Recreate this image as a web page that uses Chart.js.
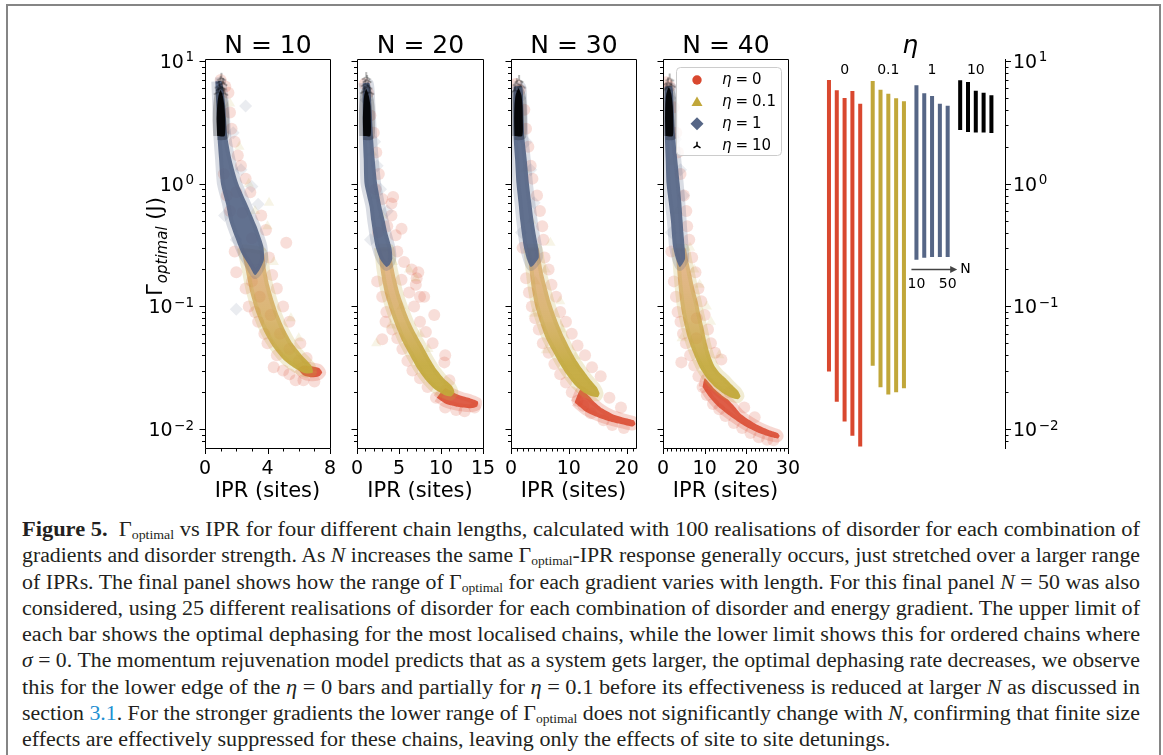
<!DOCTYPE html>
<html>
<head>
<meta charset="utf-8">
<title>Gamma optimal vs IPR</title>
<script src="https://cdn.jsdelivr.net/npm/chart.js@4.4.1/dist/chart.umd.min.js"></script>
<style>
  html, body { margin: 0; padding: 0; background: #fff; }
  body { position: relative; width: 1163px; height: 755px; overflow: hidden; }
  canvas { position: absolute; }
  #frame { position: absolute; left: 6px; top: 4px; width: 1151px; height: 800px;
           border: 2px solid #858585; border-bottom: none; }
  #caption { position: absolute; left: 22px; top: 516px; width: 1118px;
             font-family: 'Liberation Serif', serif; font-size: 20px; line-height: 26.25px; color: #231f20; }
  #caption .ln { white-space: nowrap; width: max-content; transform-origin: 0 0; }
  #caption sub { font-size: 0.62em; line-height: 0; vertical-align: -0.28em; }
  #caption .ref { color: #1e8fd2; }
</style>
</head>
<body>
<div id="frame"></div>
<div id="caption">
  <div class="ln"><b>Figure 5.</b>&nbsp; Γ<sub>optimal</sub> vs IPR for four different chain lengths, calculated with 100 realisations of disorder for each combination of</div>
  <div class="ln">gradients and disorder strength. As <i>N</i> increases the same Γ<sub>optimal</sub>-IPR response generally occurs, just stretched over a larger range</div>
  <div class="ln">of IPRs. The final panel shows how the range of Γ<sub>optimal</sub> for each gradient varies with length. For this final panel <i>N</i> = 50 was also</div>
  <div class="ln">considered, using 25 different realisations of disorder for each combination of disorder and energy gradient. The upper limit of</div>
  <div class="ln">each bar shows the optimal dephasing for the most localised chains, while the lower limit shows this for ordered chains where</div>
  <div class="ln"><i>σ</i> = 0. The momentum rejuvenation model predicts that as a system gets larger, the optimal dephasing rate decreases, we observe</div>
  <div class="ln">this for the lower edge of the <i>η</i> = 0 bars and partially for <i>η</i> = 0.1 before its effectiveness is reduced at larger <i>N</i> as discussed in</div>
  <div class="ln">section <span class="ref">3.1</span>. For the stronger gradients the lower range of Γ<sub>optimal</sub> does not significantly change with <i>N</i>, confirming that finite size</div>
  <div class="ln last">effects are effectively suppressed for these chains, leaving only the effects of site to site detunings.</div>
</div>
<script>
// chain lengths of the four scatter panels and the gradients
const chainLengths = [10, 20, 30, 40];
const etaValues = ['0', '0.1', '1', '10'];

// [IPR, Γ] : "core" = outline of the dense part of each cloud, "halo" = stray points around it
// N = 10
const coreN10Eta10 = [[0.78,2.45],[0.74,3.3],[0.78,4.3],[0.86,5.2],[1.0,5.8],[1.14,5.2],[1.24,4.3],[1.3,3.3],[1.26,2.45]];
const haloN10Eta10 = [[0.9,6.3],[1.0,6.9],[1.1,6.1],[0.85,5.6],[1.2,5.5],[1.05,7.3],[0.95,6.0],[1.15,6.6]];
const coreN10Eta1 = [[0.66,6.8],[0.72,4.5],[0.8,2.4],[0.9,1.6],[1.02,1.0],[1.34,0.69],[1.56,0.5],[1.92,0.37],[2.35,0.27],[2.88,0.21],[3.2,0.18],[3.5,0.2],[3.77,0.24],[3.73,0.31],[3.3,0.45],[2.77,0.65],[2.13,1.0],[1.7,1.56],[1.43,2.4],[1.28,4.5],[1.07,6.8]];
const haloN10Eta1 = [[2.6,4.3],[3.4,0.68],[2.0,0.35],[2.0,0.095],[1.8,2.6],[2.3,1.3],[1.25,0.55],[3.0,0.95]];
const coreN10Eta01 = [[2.3,0.3],[2.6,0.2],[2.9,0.13],[3.3,0.088],[3.8,0.062],[4.4,0.046],[5.1,0.036],[5.8,0.031],[6.4,0.0285],[6.9,0.029],[6.8,0.033],[6.2,0.04],[5.6,0.05],[5.1,0.065],[4.7,0.085],[4.4,0.11],[4.1,0.15],[3.9,0.2],[3.7,0.28]];
const haloN10Eta01 = [[4.1,0.7],[4.0,0.45],[4.4,0.23],[6.0,0.055],[3.2,0.6],[2.8,1.0],[3.6,0.3],[5.5,0.08],[2.2,2.0],[1.6,4.5]];
const coreN10Eta0 = [[5.9,0.031],[6.3,0.0275],[6.8,0.0265],[7.3,0.027],[7.5,0.029],[7.3,0.0315],[6.8,0.0325],[6.3,0.033]];
const haloN10Eta0 = [[1.0,7.0],[1.3,6.2],[1.5,5.5],[1.6,3.8],[1.7,2.8],[1.9,2.2],[2.1,1.7],[2.3,1.4],[2.6,1.1],[2.9,0.85],[1.2,1.2],[1.4,0.8],[1.6,0.6],[3.6,0.55],[3.9,0.42],[5.2,0.33],[2.0,0.19],[1.9,0.28],[4.1,0.25],[4.3,0.18],[2.6,0.14],[4.6,0.14],[2.8,0.1],[3.2,0.09],[5.0,0.1],[3.4,0.075],[5.4,0.075],[3.8,0.06],[4.0,0.05],[6.1,0.05],[4.6,0.04],[6.5,0.038],[5.0,0.03],[5.4,0.028],[5.8,0.025],[6.3,0.025],[7.0,0.0245],[4.4,0.032],[3.0,0.16],[3.5,0.12],[4.2,0.085],[4.8,0.06],[5.4,0.045],[6.0,0.036],[3.0,0.36],[2.4,0.58],[2.0,0.85]];

// N = 20
const coreN20Eta10 = [[0.75,2.45],[0.7,3.3],[0.75,4.3],[0.85,5.2],[1.1,5.9],[1.4,5.2],[1.6,4.3],[1.65,3.3],[1.6,2.45]];
const haloN20Eta10 = [[1.0,6.5],[1.2,7.0],[1.3,6.2],[0.9,5.7],[1.5,5.6],[1.1,7.4]];
const coreN20Eta1 = [[0.68,6.6],[0.68,4.5],[0.7,2.4],[0.8,1.6],[0.9,1.0],[1.5,0.65],[1.7,0.5],[2.2,0.31],[2.8,0.24],[3.5,0.21],[3.9,0.22],[4.2,0.245],[4.1,0.3],[3.6,0.4],[3.3,0.5],[2.9,0.65],[2.4,1.0],[2.1,1.6],[1.9,2.4],[1.7,4.5],[1.5,6.6]];
const haloN20Eta1 = [[1.1,4.8],[2.1,2.2],[2.4,1.4],[2.8,0.9],[3.6,0.6],[1.6,0.35]];
const coreN20Eta01 = [[2.5,0.3],[2.8,0.2],[3.3,0.13],[3.9,0.095],[4.6,0.07],[5.4,0.052],[6.3,0.04],[7.2,0.031],[8.2,0.025],[9.3,0.021],[10.4,0.019],[11.2,0.0185],[11.6,0.02],[11.3,0.0225],[10.3,0.026],[9.4,0.031],[8.6,0.038],[7.8,0.048],[7.0,0.06],[6.3,0.075],[5.7,0.095],[5.1,0.125],[4.6,0.17],[4.2,0.23],[3.9,0.3]];
const haloN20Eta01 = [[4.3,0.23],[6.2,0.2],[7.0,0.17],[2.2,0.8],[3.0,0.55],[5.3,0.1],[7.5,0.06],[2.3,0.05],[4.0,0.07],[8.5,0.045],[1.3,3.0],[1.8,1.8]];
const coreN20Eta0 = [[9.5,0.018],[10.5,0.0162],[12.0,0.0152],[13.5,0.0148],[14.3,0.0153],[14.4,0.0168],[13.5,0.0178],[12.5,0.0186],[11.5,0.0198],[10.5,0.0215]];
const haloN20Eta0 = [[0.9,6.5],[1.3,5.5],[1.6,3.6],[2.0,2.6],[2.3,1.8],[2.6,1.2],[2.2,0.9],[3.0,0.75],[4.1,0.69],[4.3,0.78],[4.1,0.55],[5.3,0.43],[3.6,0.45],[4.6,0.38],[2.5,0.4],[4.8,0.28],[5.6,0.23],[6.5,0.2],[7.1,0.17],[7.3,0.19],[7.0,0.15],[2.4,0.16],[3.0,0.12],[6.2,0.13],[7.5,0.12],[3.4,0.075],[3.5,0.09],[6.8,0.1],[4.2,0.065],[7.5,0.075],[3.0,0.054],[4.8,0.055],[8.2,0.062],[5.4,0.045],[9.0,0.05],[6.0,0.036],[10.5,0.04],[10.4,0.035],[6.6,0.03],[7.5,0.026],[8.4,0.022],[9.4,0.018],[10.5,0.015],[11.8,0.0143],[12.8,0.014],[14.0,0.015],[5.3,0.165],[8.0,0.12],[9.2,0.085],[11.0,0.025]];

// N = 30
const coreN30Eta10 = [[0.6,2.45],[0.55,3.3],[0.6,4.3],[0.8,5.3],[1.3,6.0],[1.8,5.3],[2.0,4.3],[2.05,3.3],[1.95,2.45]];
const haloN30Eta10 = [[1.0,6.6],[1.4,7.0],[1.8,6.3],[0.7,5.8]];
const coreN30Eta1 = [[0.45,6.2],[0.4,4.5],[0.45,2.4],[0.7,1.6],[0.95,1.0],[1.3,0.7],[1.6,0.5],[2.2,0.31],[2.8,0.24],[3.4,0.21],[4.0,0.22],[4.8,0.25],[4.7,0.3],[4.3,0.38],[3.9,0.5],[3.5,0.7],[3.1,1.0],[2.7,1.6],[2.3,2.4],[2.1,4.5],[1.9,6.2]];
const haloN30Eta1 = [[1.5,5.0],[2.6,2.2],[3.4,1.3],[4.0,0.7],[1.8,0.4]];
const coreN30Eta01 = [[2.8,0.3],[3.2,0.2],[3.6,0.14],[4.2,0.1],[5.0,0.075],[5.9,0.057],[7.0,0.045],[8.3,0.035],[9.6,0.028],[11.0,0.023],[12.5,0.02],[14.0,0.0185],[15.0,0.0182],[15.3,0.0195],[14.8,0.022],[13.5,0.026],[12.3,0.031],[11.2,0.037],[10.2,0.045],[9.2,0.056],[8.3,0.07],[7.5,0.088],[6.8,0.11],[6.2,0.14],[5.6,0.18],[5.1,0.24],[4.7,0.3]];
const haloN30Eta01 = [[6.8,0.33],[6.0,0.2],[8.5,0.11],[8.9,0.065],[11.2,0.039],[3.9,0.087],[6.0,0.044],[3.5,0.5],[2.4,1.3],[4.2,0.16]];
const coreN30Eta0 = [[11.0,0.0165],[13.0,0.0138],[15.0,0.0125],[17.0,0.0116],[19.0,0.011],[21.0,0.0105],[21.5,0.011],[21.2,0.0118],[19.5,0.0124],[17.5,0.0133],[15.8,0.0147],[14.5,0.0165],[13.3,0.019],[12.0,0.021]];
const haloN30Eta0 = [[0.8,6.5],[1.5,5.8],[2.3,4.0],[2.6,2.8],[3.0,2.0],[3.4,1.4],[3.7,1.1],[4.5,0.8],[5.0,0.6],[5.4,0.45],[5.6,0.35],[2.0,0.3],[5.8,0.25],[6.5,0.2],[2.6,0.17],[7.0,0.15],[3.1,0.13],[7.8,0.12],[3.6,0.1],[8.5,0.09],[4.2,0.08],[9.5,0.075],[4.8,0.065],[10.5,0.06],[5.5,0.05],[11.5,0.048],[6.5,0.042],[12.8,0.04],[7.5,0.034],[14.0,0.032],[8.5,0.028],[15.5,0.027],[9.5,0.024],[10.5,0.02],[11.5,0.017],[12.5,0.0155],[13.8,0.0135],[16.0,0.0118],[17.5,0.0108],[19.5,0.0102],[17.0,0.018],[19.0,0.015]];

// N = 40
const coreN40Eta10 = [[0.6,2.45],[0.5,3.3],[0.55,4.3],[0.8,5.4],[1.4,6.1],[2.0,5.4],[2.35,4.3],[2.45,3.3],[2.35,2.45]];
const haloN40Eta10 = [[1.2,6.7],[1.6,7.2],[2.0,6.4],[0.9,6.0]];
const coreN40Eta1 = [[0.45,6.2],[0.4,4.5],[0.45,2.4],[0.65,1.6],[0.85,1.0],[1.4,0.7],[1.9,0.5],[2.4,0.31],[3.2,0.24],[4.0,0.21],[4.6,0.22],[5.3,0.245],[5.2,0.3],[4.9,0.4],[4.7,0.5],[4.4,0.7],[4.0,1.0],[3.4,1.6],[2.9,2.4],[2.5,4.5],[2.2,6.2]];
const haloN40Eta1 = [[1.6,5.0],[3.0,2.3],[4.2,1.3],[4.9,0.8],[2.0,0.4]];
const coreN40Eta01 = [[3.0,0.3],[3.4,0.2],[3.8,0.14],[4.3,0.1],[5.0,0.075],[5.8,0.058],[6.8,0.046],[7.8,0.038],[9.0,0.031],[10.5,0.026],[12.5,0.022],[14.5,0.0195],[16.5,0.018],[18.0,0.0175],[18.6,0.0185],[18.0,0.0205],[16.5,0.023],[15.0,0.026],[13.5,0.029],[12.3,0.033],[11.3,0.04],[10.5,0.05],[9.8,0.065],[9.0,0.085],[8.3,0.11],[7.5,0.14],[6.8,0.18],[6.0,0.24],[5.3,0.3]];
const haloN40Eta01 = [[6.5,0.3],[7.5,0.2],[8.8,0.15],[10.5,0.1],[11.5,0.075],[4.5,0.055],[13.5,0.04],[3.5,0.6],[2.2,1.5]];
const coreN40Eta0 = [[9.5,0.022],[11.0,0.0185],[13.0,0.0155],[15.5,0.0132],[18.0,0.0115],[20.5,0.0102],[23.0,0.0093],[25.5,0.0087],[27.5,0.0084],[28.0,0.0088],[27.5,0.0093],[25.5,0.0098],[23.0,0.0107],[20.5,0.012],[18.5,0.0135],[17.0,0.0155],[15.5,0.0175],[14.0,0.019],[12.5,0.021],[11.0,0.024],[10.0,0.026]];
const haloN40Eta0 = [[0.8,6.7],[1.6,6.2],[2.6,4.2],[3.2,2.6],[3.6,1.8],[4.2,1.2],[5.0,0.8],[5.6,0.6],[5.8,0.45],[6.3,0.35],[2.0,0.28],[7.0,0.25],[2.6,0.16],[7.8,0.19],[3.1,0.12],[8.5,0.14],[3.5,0.09],[9.2,0.11],[4.2,0.075],[8.1,0.08],[10.0,0.085],[4.8,0.06],[10.8,0.065],[5.5,0.05],[11.5,0.05],[6.5,0.04],[7.5,0.033],[12.5,0.042],[8.5,0.027],[9.5,0.022],[10.5,0.019],[12.0,0.016],[13.5,0.0145],[15.0,0.0128],[17.0,0.0112],[19.0,0.0102],[21.0,0.0093],[23.0,0.0086],[25.0,0.0082],[26.5,0.0081],[14.0,0.037],[16.0,0.02],[22.0,0.0125],[19.5,0.015],[8.0,0.055],[4.4,0.035]];

// Γ_optimal range [lowest, highest] for N = 10..50
const barLengths = [10, 20, 30, 40, 50];
const rangeEta0 = [[0.029,7.13],[0.0164,5.88],[0.01135,5.09],[0.00867,5.81],[0.0071,4.57]];
const rangeEta01 = [[0.0323,7.0],[0.0215,5.95],[0.0188,5.52],[0.0196,5.06],[0.0211,4.79]];
const rangeEta1 = [[0.236,6.45],[0.245,5.56],[0.248,5.28],[0.248,4.57],[0.248,4.4]];
const rangeEta10 = [[2.69,7.1],[2.59,6.87],[2.56,5.84],[2.56,5.62],[2.54,5.35]];

// ---- layout / style ----
const Y_MIN = 0.00702, Y_MAX = 10.38;
const plotLeft = [205, 357, 511, 663];
const plotRight = [330, 483, 636, 788];
const xMax = [8, 15, 21.6, 30];
const xMajor = [4, 5, 10, 10];
const GROUP_STEP = 5.6;

const RED = '217,72,47', YEL = '193,167,58', BLU = '86,102,134', BLK = '0,0,0';
const rgba = (c, a) => `rgba(${c},${a})`;
const FONT = '"DejaVu Sans", sans-serif';

const cores = [
  [coreN10Eta0, coreN10Eta01, coreN10Eta1, coreN10Eta10],
  [coreN20Eta0, coreN20Eta01, coreN20Eta1, coreN20Eta10],
  [coreN30Eta0, coreN30Eta01, coreN30Eta1, coreN30Eta10],
  [coreN40Eta0, coreN40Eta01, coreN40Eta1, coreN40Eta10]
];
const halos = [
  [haloN10Eta0, haloN10Eta01, haloN10Eta1, haloN10Eta10],
  [haloN20Eta0, haloN20Eta01, haloN20Eta1, haloN20Eta10],
  [haloN30Eta0, haloN30Eta01, haloN30Eta1, haloN30Eta10],
  [haloN40Eta0, haloN40Eta01, haloN40Eta1, haloN40Eta10]
];
const ranges = [rangeEta0, rangeEta01, rangeEta1, rangeEta10];

// tri_up marker used for eta = 10
const triMarker = (() => {
  const c = document.createElement('canvas');
  c.width = 12; c.height = 12;
  const g = c.getContext('2d');
  g.strokeStyle = 'rgba(0,0,0,0.35)';
  g.lineWidth = 1.6;
  g.beginPath();
  g.moveTo(6, 6); g.lineTo(6, 1);
  g.moveTo(6, 6); g.lineTo(1.7, 8.5);
  g.moveTo(6, 6); g.lineTo(10.3, 8.5);
  g.stroke();
  return c;
})();

// the eta = 0.1 band turns from orange (mixed with eta = 0 points) to solid yellow at its tail
function yellowFill(context) {
  const {chart} = context;
  const y = chart.scales.y;
  if (!chart.chartArea || !y) return rgba(YEL, 0.75);
  const g = chart.ctx.createLinearGradient(0, y.getPixelForValue(0.3), 0, y.getPixelForValue(0.02));
  g.addColorStop(0, 'rgba(214,138,78,0.6)');
  g.addColorStop(0.5, 'rgba(204,158,66,0.75)');
  g.addColorStop(0.8, 'rgba(195,168,58,0.92)');
  g.addColorStop(1, 'rgba(195,168,58,0.95)');
  return g;
}

const etaStyle = [
  {color: RED, fill: rgba(RED, 0.88), pointStyle: 'circle', radius: 6, haloAlpha: 0.18},
  {color: YEL, fill: yellowFill, pointStyle: 'triangle', radius: 6, haloAlpha: 0.13},
  {color: BLU, fill: rgba(BLU, 0.93), pointStyle: 'rectRot', radius: 6.5, haloAlpha: 0.12},
  {color: BLK, fill: rgba(BLK, 0.9), pointStyle: triMarker, radius: 6, haloAlpha: 1}
];

const toXY = arr => arr.map(p => ({x: p[0], y: p[1]}));

function panelDatasets(k) {
  const sets = [];
  etaStyle.forEach((s, e) => {
    const ring = toXY(cores[k][e]);
    ring.push(ring[0]);
    // eta = 10 on top, eta = 0 at the bottom
    const base = (3 - e) * 2;
    sets.push({
      data: ring, showLine: true, fill: 'shape', tension: 0.2,
      backgroundColor: s.fill,
      borderColor: rgba(s.color, 0.22), borderWidth: 8, borderJoinStyle: 'round',
      pointRadius: 0, order: base
    });
    sets.push({
      data: toXY(halos[k][e]), showLine: false,
      pointStyle: s.pointStyle, pointRadius: s.radius, pointBorderWidth: 0,
      backgroundColor: rgba(s.color, s.haloAlpha),
      pointBackgroundColor: rgba(s.color, s.haloAlpha),
      order: base + 1
    });
  });
  return sets;
}

function linearTicks(max, major) {
  const t = [];
  for (let v = 0; v <= max + 1e-9; v += 1) t.push({value: v, major: v % major === 0});
  return t;
}
function logTicks() {
  const t = [];
  for (let e = -3; e <= 1; e++) {
    for (let m = 1; m <= 9; m++) {
      const v = m * Math.pow(10, e);
      if (v >= Y_MIN && v <= Y_MAX) t.push({value: v, major: m === 1});
    }
  }
  return t;
}

// "10" with a raised exponent
function drawPow(ctx, xe, yc, e, align) {
  const sup = (e < 0 ? '\u2212' : '') + Math.abs(e);
  ctx.font = '19px ' + FONT;
  const wb = ctx.measureText('10').width;
  ctx.font = '13.5px ' + FONT;
  const ws = ctx.measureText(sup).width;
  const x0 = align === 'right' ? xe - wb - ws - 1.5 : xe;
  ctx.textAlign = 'left';
  ctx.textBaseline = 'alphabetic';
  ctx.font = '19px ' + FONT;
  ctx.fillText('10', x0, yc + 7);
  ctx.font = '13.5px ' + FONT;
  ctx.fillText(sup, x0 + wb + 1.5, yc + 0.5);
}

function legendMarker(ctx, e, x, y) {
  ctx.fillStyle = rgba(etaStyle[e].color, 1);
  ctx.beginPath();
  if (e === 0) {
    ctx.arc(x, y, 4.7, 0, Math.PI * 2);
    ctx.fill();
  } else if (e === 1) {
    ctx.moveTo(x, y - 5.5); ctx.lineTo(x + 5.5, y + 4); ctx.lineTo(x - 5.5, y + 4);
    ctx.closePath(); ctx.fill();
  } else if (e === 2) {
    ctx.moveTo(x, y - 6.5); ctx.lineTo(x + 6.5, y); ctx.lineTo(x, y + 6.5); ctx.lineTo(x - 6.5, y);
    ctx.closePath(); ctx.fill();
  } else {
    ctx.strokeStyle = '#000'; ctx.lineWidth = 1.5;
    ctx.moveTo(x, y); ctx.lineTo(x, y - 4);
    ctx.moveTo(x, y); ctx.lineTo(x - 3.5, y + 2.2);
    ctx.moveTo(x, y); ctx.lineTo(x + 3.5, y + 2.2);
    ctx.stroke();
  }
}

// spines, matplotlib-like ticks, titles and the legend
const panelArt = {
  id: 'panelArt',
  afterDraw(chart, args, o) {
    const {ctx, chartArea: a, scales: {x, y}} = chart;
    ctx.save();
    ctx.strokeStyle = '#000';
    ctx.lineWidth = 1;
    ctx.beginPath();
    ctx.rect(a.left + 0.5, a.top + 0.5, a.right - a.left, a.bottom - a.top);
    x.ticks.forEach(t => {
      const px = Math.round(x.getPixelForValue(t.value)) + 0.5;
      ctx.moveTo(px, a.bottom + 0.5);
      ctx.lineTo(px, a.bottom + (t.major ? 6 : 3.5));
    });
    y.ticks.forEach(t => {
      const py = Math.round(y.getPixelForValue(t.value)) + 0.5;
      ctx.moveTo(a.left + 0.5, py);
      ctx.lineTo(a.left - (t.major ? 5.5 : 3), py);
    });
    ctx.stroke();

    ctx.fillStyle = '#000';
    ctx.font = '25px ' + FONT;
    ctx.textAlign = 'center';
    ctx.textBaseline = 'alphabetic';
    ctx.fillText(o.title, (a.left + a.right) / 2 + 0.5, a.top - 6);

    if (o.yLabels) {
      y.ticks.filter(t => t.major).forEach(t =>
        drawPow(ctx, a.left - 11, y.getPixelForValue(t.value), Math.round(Math.log10(t.value)), 'right'));
      // Γ_optimal (J), rotated
      ctx.save();
      ctx.translate(a.left - 43, (a.top + a.bottom) / 2 - 7);
      ctx.rotate(-Math.PI / 2);
      ctx.font = '21px ' + FONT;
      const wG = ctx.measureText('Γ').width;
      const wJ = ctx.measureText(' (J)').width;
      ctx.font = 'italic 15px ' + FONT;
      const wS = ctx.measureText('optimal').width;
      let tx = -(wG + wS + wJ + 1) / 2;
      ctx.textAlign = 'left';
      ctx.font = '21px ' + FONT;
      ctx.fillText('Γ', tx, 0);
      tx += wG + 1;
      ctx.font = 'italic 15px ' + FONT;
      ctx.fillText('optimal', tx, 5);
      tx += wS;
      ctx.font = '21px ' + FONT;
      ctx.fillText(' (J)', tx, 0);
      ctx.restore();
    }

    if (o.legend) {
      const bx = a.left + 13.5, by = a.top + 8.5;
      ctx.beginPath();
      ctx.roundRect(bx, by, 105, 88, 4);
      ctx.fillStyle = 'rgba(255,255,255,0.8)';
      ctx.fill();
      ctx.strokeStyle = '#cccccc';
      ctx.stroke();
      etaValues.forEach((v, e) => {
        const ry = a.top + 21 + e * 21.9;
        legendMarker(ctx, e, a.left + 34, ry);
        ctx.fillStyle = '#000';
        ctx.textAlign = 'left';
        ctx.textBaseline = 'middle';
        let tx = a.left + 59;
        ctx.font = 'italic 15px ' + FONT;
        ctx.fillText('η', tx, ry);
        tx += ctx.measureText('η').width + 4;
        ctx.font = '15px ' + FONT;
        ctx.fillText('=', tx, ry);
        tx += ctx.measureText('=').width + 4;
        ctx.fillText(v, tx, ry);
      });
    }
    ctx.restore();
  }
};

function panelChart(k) {
  const yW = k === 0 ? 75 : 12, padR = 18;
  const cv = document.createElement('canvas');
  cv.width = plotRight[k] - plotLeft[k] + yW + padR;
  cv.height = 490;
  cv.style.left = (plotLeft[k] - yW) + 'px';
  cv.style.top = '20px';
  document.body.appendChild(cv);
  return new Chart(cv, {
    type: 'scatter',
    data: {datasets: panelDatasets(k)},
    options: {
      responsive: false, animation: false, devicePixelRatio: 1, events: [],
      layout: {padding: {top: 39, right: padR, bottom: 0, left: 0}},
      plugins: {
        legend: {display: false},
        tooltip: {enabled: false},
        panelArt: {title: 'N = ' + chainLengths[k], yLabels: k === 0, legend: k === 3}
      },
      scales: {
        x: {
          type: 'linear', min: 0, max: xMax[k], bounds: 'data',
          grid: {display: false, drawTicks: false}, border: {display: false},
          ticks: {
            autoSkip: false, maxRotation: 0, padding: 10, color: '#000',
            font: {family: 'DejaVu Sans', size: 19},
            callback: (v, i, t) => (t[i].major ? String(v) : '')
          },
          afterBuildTicks: s => { s.ticks = linearTicks(xMax[k], xMajor[k]); },
          afterFit: s => { s.height = 62; s.paddingLeft = 0; s.paddingRight = 0; },
          title: {
            display: true, text: 'IPR (sites)', color: '#000',
            font: {family: 'DejaVu Sans', size: 21}, padding: {top: 0, bottom: 6}
          }
        },
        y: {
          type: 'logarithmic', min: Y_MIN, max: Y_MAX, bounds: 'data',
          grid: {display: false, drawTicks: false}, border: {display: false},
          ticks: {display: false},
          afterBuildTicks: s => { s.ticks = logTicks(); },
          afterFit: s => { s.width = yW; s.paddingTop = 0; s.paddingBottom = 0; }
        }
      }
    },
    plugins: [panelArt]
  });
}

// right-hand panel: axis on the right, eta labels, N arrow
const barArt = {
  id: 'barArt',
  afterDraw(chart) {
    const {ctx, chartArea: a, scales: {x, y}} = chart;
    ctx.save();
    ctx.strokeStyle = '#000';
    ctx.lineWidth = 1;
    ctx.beginPath();
    ctx.moveTo(a.right + 0.5, a.top);
    ctx.lineTo(a.right + 0.5, a.bottom + 1);
    y.ticks.forEach(t => {
      const py = Math.round(y.getPixelForValue(t.value)) + 0.5;
      ctx.moveTo(a.right, py);
      ctx.lineTo(a.right + (t.major ? 6 : 3.5), py);
    });
    ctx.stroke();
    ctx.fillStyle = '#000';
    y.ticks.filter(t => t.major).forEach(t =>
      drawPow(ctx, a.right + 8, y.getPixelForValue(t.value), Math.round(Math.log10(t.value)), 'left'));

    const px = (g, i) => x.getPixelForValue(g * GROUP_STEP + i);
    // eta title and group labels
    ctx.textAlign = 'center';
    ctx.textBaseline = 'alphabetic';
    ctx.font = 'italic 25px ' + FONT;
    ctx.fillText('η', (px(0, 0) + px(3, 4)) / 2, a.top - 6);
    ctx.font = '14px ' + FONT;
    ctx.textBaseline = 'middle';
    etaValues.forEach((v, g) => ctx.fillText(v, px(g, 2), a.top + 11));

    // N direction arrow under the eta = 1 bars
    const ay = a.top + 210.5;
    const x0 = px(2, 0) - 5, x1 = px(2, 4) + 9.5;
    ctx.strokeStyle = '#444';
    ctx.fillStyle = '#444';
    ctx.lineWidth = 1.5;
    ctx.beginPath();
    ctx.moveTo(x0, ay); ctx.lineTo(x1 - 5, ay);
    ctx.stroke();
    ctx.beginPath();
    ctx.moveTo(x1, ay); ctx.lineTo(x1 - 7, ay - 3.5); ctx.lineTo(x1 - 7, ay + 3.5);
    ctx.closePath(); ctx.fill();
    ctx.fillStyle = '#000';
    ctx.font = '14px ' + FONT;
    ctx.textAlign = 'left';
    ctx.fillText('N', x1 + 3, ay);
    ctx.textAlign = 'center';
    ctx.fillText(String(barLengths[0]), px(2, 0), ay + 15);
    ctx.fillText(String(barLengths[barLengths.length - 1]), px(2, 4), ay + 15);
    ctx.restore();
  }
};

function rangeChart() {
  const cv = document.createElement('canvas');
  cv.width = 270;
  cv.height = 490;
  cv.style.left = '790px';
  cv.style.top = '20px';
  document.body.appendChild(cv);
  return new Chart(cv, {
    type: 'bar',
    data: {
      datasets: ranges.map((r, g) => ({
        data: r.map((lh, i) => ({x: g * GROUP_STEP + i, y: lh})),
        backgroundColor: rgba(etaStyle[g].color, 1),
        borderColor: g === 3 ? 'rgba(255,255,255,0.25)' : 'rgba(255,255,255,0.45)',
        borderWidth: 1, borderSkipped: false,
        grouped: false, barPercentage: 0.77, categoryPercentage: 1
      }))
    },
    options: {
      responsive: false, animation: false, devicePixelRatio: 1, events: [],
      layout: {padding: {top: 39, right: 0, bottom: 62, left: 0}},
      plugins: {legend: {display: false}, tooltip: {enabled: false}},
      scales: {
        x: {
          type: 'linear', display: false, offset: false, min: -4.99, max: 22.54,
          afterBuildTicks: s => { s.ticks = []; }
        },
        y: {
          type: 'logarithmic', position: 'right', min: Y_MIN, max: Y_MAX, bounds: 'data',
          grid: {display: false, drawTicks: false}, border: {display: false},
          ticks: {display: false},
          afterBuildTicks: s => { s.ticks = logTicks(); },
          afterFit: s => { s.width = 55; s.paddingTop = 0; s.paddingBottom = 0; }
        }
      }
    },
    plugins: [barArt]
  });
}

chainLengths.forEach((n, k) => panelChart(k));
rangeChart();

// fit every caption line to the column width; the last line keeps the average squeeze
(function fitCaption() {
  const lines = Array.from(document.querySelectorAll('#caption .ln'));
  const full = 1118;
  const scales = [];
  lines.forEach(el => {
    if (el.classList.contains('last')) return;
    const s = full / el.getBoundingClientRect().width;
    scales.push(s);
    el.style.transform = 'scaleX(' + s + ')';
  });
  const avg = scales.reduce((a, b) => a + b, 0) / scales.length;
  lines.filter(el => el.classList.contains('last'))
       .forEach(el => { el.style.transform = 'scaleX(' + avg + ')'; });
})();
</script>
</body>
</html>
